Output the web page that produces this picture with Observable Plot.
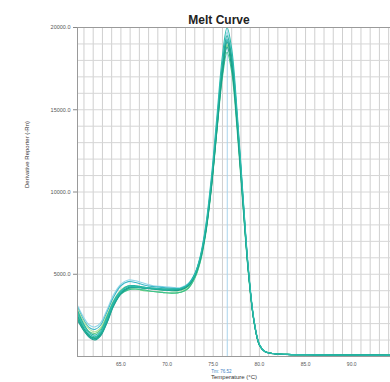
<!DOCTYPE html>
<html>
<head>
<meta charset="utf-8">
<script src="https://cdn.jsdelivr.net/npm/d3@7"></script>
<script src="https://cdn.jsdelivr.net/npm/@observablehq/plot@0.6"></script>
<style>
  html, body { margin: 0; padding: 0; background: #fff; }
  #chart svg { display: block; }
</style>
</head>
<body>
<div id="chart"></div>
<script>
// Melt temperatures (°C) at which each well's derivative was read
const temps = [60.3, 61, 61.6, 62.2, 62.8, 63.5, 64.2, 65, 65.8, 66.6, 67.5, 68.5, 69.5, 70.5, 71.5, 72.3, 73, 73.6, 74.2, 74.8, 75.4, 76, 76.5, 77, 77.6, 78.2, 78.8, 79.4, 80, 80.6, 81.5, 83, 86, 90, 94.2];

// Derivative reporter (-Rn) per well
const well1  = [2500,1700,1250,1100,1350,2200,3200,3900,4200,4250,4150,4100,4050,4000,4050,4300,4900,5900,7600,10300,13800,17200,18800,17600,14000,9500,5200,2200,700,300,180,130,100,90,80];
const well2  = [2300,1600,1200,1050,1300,2100,3100,3850,4150,4200,4150,4100,4050,4050,4100,4350,5000,6000,7800,10600,14200,17800,19500,18200,14500,9800,5300,2200,700,280,170,120,100,90,80];
const well3  = [2800,1950,1450,1300,1550,2400,3350,4000,4300,4300,4200,4150,4100,4050,4100,4300,4900,5900,7700,10500,14000,17500,19200,18000,14300,9700,5300,2250,720,300,180,130,100,90,85];
const well4  = [2600,1800,1350,1200,1450,2300,3250,3950,4250,4250,4200,4150,4100,4100,4150,4400,5000,6100,8000,10900,14600,18300,20000,18700,14800,10000,5400,2300,750,300,180,130,100,90,80];
const well5  = [2400,1650,1250,1150,1400,2250,3150,3800,4050,4100,4050,3950,3900,3850,3900,4150,4750,5750,7500,10200,13700,17000,18500,17300,13700,9300,5100,2150,700,300,180,130,100,90,80];
const well6  = [2700,1900,1500,1400,1650,2450,3300,3900,4100,4100,4000,3950,3900,3850,3900,4150,4800,5800,7600,10300,13800,17300,18900,17700,14000,9500,5200,2200,700,300,180,130,100,90,80];
const well7  = [3000,2200,1750,1650,1900,2700,3600,4300,4550,4500,4350,4250,4200,4150,4150,4400,5000,6000,7800,10500,14000,17600,19300,18100,14400,9800,5300,2250,720,300,180,130,100,90,80];
const well8  = [3100,2350,1900,1800,2050,2850,3750,4400,4650,4600,4450,4300,4250,4200,4200,4450,5050,6050,7900,10700,14300,17900,19700,18400,14600,9900,5350,2250,720,300,180,130,100,90,80];
const well9  = [2200,1550,1150,1000,1250,2050,3050,3800,4150,4250,4200,4150,4100,4100,4100,4350,4950,5950,7700,10400,14000,17500,19100,17900,14200,9600,5250,2200,700,290,170,120,100,90,80];
const well10 = [2900,2100,1650,1500,1750,2550,3400,4050,4300,4300,4200,4100,4050,4000,4000,4250,4850,5850,7650,10350,13900,17400,19000,17800,14100,9550,5200,2200,700,300,180,130,100,90,80];

const wells = [well8, well7, well10, well6, well3, well5, well1, well9, well2, well4];
const wellColors = ["#93d6e8", "#3ab8c8", "#b5e3a0", "#6ccf80", "#27b3a3", "#3cc28c", "#169e88", "#1d9c8c", "#1fa995", "#2bbcae"];

const tm = 76.52;
const xTicks = [65, 70, 75, 80, 85, 90];
const yTicks = [5000, 10000, 15000, 20000];

// long table: one row per reading
const rows = wells.flatMap((vals, w) =>
  vals.map((v, i) => ({t: temps[i], v, well: w, color: wellColors[w]}))
);

const chart = Plot.plot({
  width: 390,
  height: 382,
  marginTop: 27,
  marginBottom: 26,
  marginLeft: 77,
  marginRight: 0,
  style: {fontFamily: "'Liberation Sans', Arial, sans-serif", background: "#fff"},
  x: {domain: [60.3, 94.2]},
  y: {domain: [0, 20000]},
  color: {type: "identity"},
  marks: [
    Plot.gridX(d3.range(61, 95), {stroke: "#cfcfcf", strokeOpacity: 1}),
    Plot.gridY(d3.range(1000, 20000, 1000), {stroke: "#d6d6d6", strokeOpacity: 1}),
    Plot.ruleX([tm], {stroke: "#a9d3ec", strokeWidth: 1}),
    Plot.line(rows, {x: "t", y: "v", z: "well", stroke: "color", strokeWidth: 1.1, curve: "catmull-rom"}),
    Plot.frame({stroke: "#9a9a9a"}),
    Plot.axisX({ticks: xTicks, tickFormat: d => d.toFixed(1), tickSize: 0, tickPadding: 6, fontSize: 5, fill: "#555", label: null}),
    Plot.axisY({ticks: yTicks, tickFormat: d => d.toFixed(1), tickSize: 4, tickPadding: 3, fontSize: 5.5, fill: "#555", stroke: "#888", label: null}),
    Plot.text(["Melt Curve"], {frameAnchor: "top", dy: -12, dx: -15, fontSize: 12, fontWeight: "bold", fill: "#222"}),
    Plot.text([tm], {x: d => d, frameAnchor: "bottom", dy: 16, dx: -6, text: d => `Tm: ${d}`, fontSize: 4.5, fill: "#3b7fc4"}),
    Plot.text(["Temperature (°C)"], {frameAnchor: "bottom", dy: 22, fontSize: 6, fill: "#333"}),
    Plot.text(["Derivative Reporter (-Rn)"], {frameAnchor: "left", dx: -50, dy: -4, rotate: -90, fontSize: 6, fill: "#333"})
  ]
});

document.getElementById("chart").append(chart);
</script>
</body>
</html>
